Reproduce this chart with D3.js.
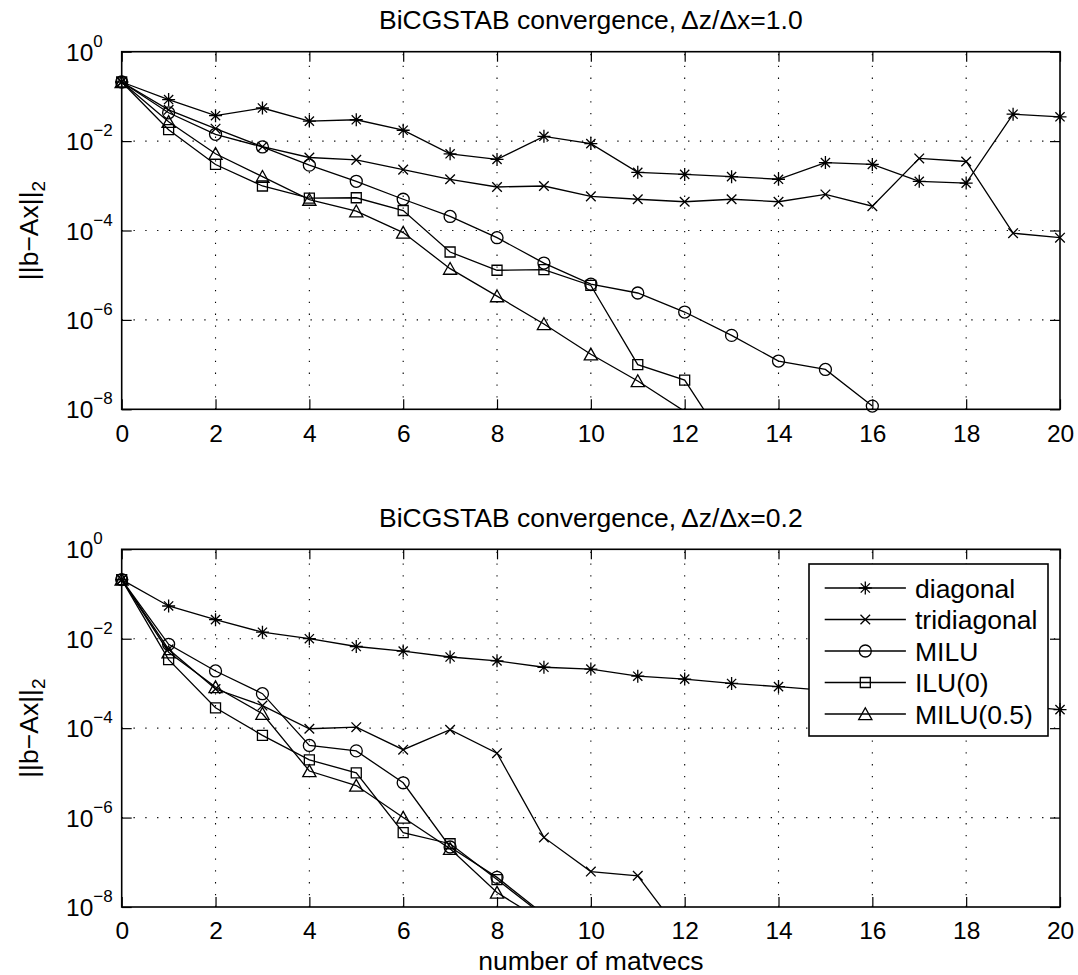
<!DOCTYPE html>
<html><head><meta charset="utf-8">
<script src="https://cdn.jsdelivr.net/npm/d3@7"></script>
<style>
body{margin:0;background:#fff;}
svg{display:block;font-family:"Liberation Sans",Arial,Helvetica,sans-serif;}
</style>
</head><body>
<svg id="chart" width="1078" height="975"></svg>
<script>
// ---------- data ----------
const xTickValues = [0, 2, 4, 6, 8, 10, 12, 14, 16, 18, 20];
const yTickExponents = [0, -2, -4, -6, -8];
const seriesNames = ["diagonal", "tridiagonal", "MILU", "ILU(0)", "MILU(0.5)"];
const seriesMarkers = ["asterisk", "times", "circle", "square", "triangle"];
const titlePrefix = "BiCGSTAB convergence,";
const panelRatios = ["\u0394z/\u0394x=1.0", "\u0394z/\u0394x=0.2"];
const xLabel = "number of matvecs";

// residual norms, index = number of matvecs (panel 1: dz/dx = 1.0)
const top_diagonal = [0.21, 0.085, 0.037, 0.055, 0.028, 0.030, 0.0175, 0.0052, 0.0039, 0.0128, 0.0088,
  0.0020, 0.0018, 0.0016, 0.0014, 0.0033, 0.0030, 0.00126, 0.00115, 0.040, 0.035];
const top_tridiagonal = [0.21, 0.05, 0.019, 0.0075, 0.0043, 0.0038, 0.0023, 0.0014, 0.00094, 0.00099, 0.00058,
  0.0005, 0.00044, 0.0005, 0.00044, 0.00064, 0.00035, 0.0041, 0.0035, 0.000087, 0.000069];
const top_milu = [0.21, 0.043, 0.0142, 0.0074, 0.0029, 0.00126, 0.0005, 0.000206, 0.000069, 1.87e-5, 6.3e-6,
  4.0e-6, 1.5e-6, 4.5e-7, 1.2e-7, 7.8e-8, 1.18e-8];
const top_ilu0 = [0.21, 0.018, 0.003, 0.00099, 0.00053, 0.00054, 0.00028, 3.3e-5, 1.29e-5, 1.33e-5, 5.9e-6,
  1.0e-7, 4.5e-8, 1.1e-9];
const top_milu05 = [0.21, 0.027, 0.0052, 0.0016, 0.00049, 0.00027, 9.0e-5, 1.4e-5, 3.4e-6, 8.1e-7, 1.7e-7,
  4.3e-8, 9e-9];

// panel 2: dz/dx = 0.2
const bottom_diagonal = [0.21, 0.054, 0.0267, 0.014, 0.010, 0.0067, 0.0053, 0.0039, 0.0032, 0.0023, 0.0021,
  0.00145, 0.00125, 0.001, 0.00085, 0.00070, 0.00058, 0.00048, 0.00039, 0.00032, 0.00026];
const bottom_tridiagonal = [0.21, 0.0058, 0.00075, 0.00032, 9.7e-5, 1.05e-4, 3.3e-5, 9.2e-5, 2.76e-5, 3.6e-7,
  6.2e-8, 5.0e-8, 2e-9];
const bottom_milu = [0.21, 0.0075, 0.0019, 0.00059, 4.1e-5, 3.1e-5, 6e-6, 2.2e-7, 4.6e-8, 6.8e-9];
const bottom_ilu0 = [0.21, 0.0034, 0.000285, 6.9e-5, 1.95e-5, 1.0e-5, 4.6e-7, 2.6e-7, 4.1e-8, 6.3e-9];
const bottom_milu05 = [0.21, 0.005, 0.00083, 0.00021, 1.1e-5, 5.2e-6, 1.0e-6, 2.0e-7, 2.1e-8, 4.7e-9];

const panelSeries = [
  [top_diagonal, top_tridiagonal, top_milu, top_ilu0, top_milu05],
  [bottom_diagonal, bottom_tridiagonal, bottom_milu, bottom_ilu0, bottom_milu05]
];

// ---------- layout ----------
const W = 1078, H = 975;
const plotLeft = 121.7, plotRight = 1060;
const panels = [{top: 51.7, bottom: 409.3}, {top: 549.3, bottom: 907}];
const tickFont = 24.5, textFont = 26.5, supFont = 17;

const svg = d3.select("#chart");
svg.append("rect").attr("width", W).attr("height", H).attr("fill", "#fff");

function markerPath(type) {
  const p = d3.path();
  if (type === "asterisk") {
    const a = 6.5, b = 4.6;
    p.moveTo(0, -a); p.lineTo(0, a);
    p.moveTo(-a, 0); p.lineTo(a, 0);
    p.moveTo(-b, -b); p.lineTo(b, b);
    p.moveTo(-b, b); p.lineTo(b, -b);
  } else if (type === "times") {
    const a = 4.8;
    p.moveTo(-a, -a); p.lineTo(a, a);
    p.moveTo(-a, a); p.lineTo(a, -a);
  } else if (type === "circle") {
    p.moveTo(6, 0); p.arc(0, 0, 6, 0, Math.PI * 2);
  } else if (type === "square") {
    p.rect(-5, -5, 10, 10);
  } else if (type === "triangle") {
    p.moveTo(0, -6.2); p.lineTo(6.6, 5.6); p.lineTo(-6.6, 5.6); p.closePath();
  }
  return p.toString();
}

panels.forEach((pan, pi) => {
  const x = d3.scaleLinear().domain([0, 20]).range([plotLeft, plotRight]);
  const y = d3.scaleLog().domain([1e-8, 1]).range([pan.bottom, pan.top]);
  const g = svg.append("g");
  const clipId = "clip" + pi;
  svg.append("clipPath").attr("id", clipId).append("rect")
    .attr("x", plotLeft).attr("y", pan.top)
    .attr("width", plotRight - plotLeft).attr("height", pan.bottom - pan.top);

  // grid
  const grid = g.append("g").attr("stroke", "#000").attr("stroke-width", 1.1)
    .attr("stroke-dasharray", "1.3,10.5");
  grid.selectAll("line.vx").data(xTickValues.slice(1, -1)).join("line")
    .attr("x1", d => x(d)).attr("x2", d => x(d))
    .attr("y1", pan.bottom).attr("y2", pan.top);
  grid.selectAll("line.hy").data(yTickExponents.slice(1, -1)).join("line")
    .attr("y1", d => y(Math.pow(10, d))).attr("y2", d => y(Math.pow(10, d)))
    .attr("x1", plotLeft).attr("x2", plotRight);

  // axes with inward ticks
  const yTicks = yTickExponents.map(e => Math.pow(10, e));
  const axB = g.append("g").attr("transform", `translate(0,${pan.bottom})`)
    .call(d3.axisBottom(x).tickValues(xTickValues).tickSizeInner(-10).tickSizeOuter(0).tickPadding(15).tickFormat(d3.format("d")));
  const axT = g.append("g").attr("transform", `translate(0,${pan.top})`)
    .call(d3.axisTop(x).tickValues(xTickValues).tickSizeInner(-10).tickSizeOuter(0).tickFormat(""));
  const axL = g.append("g").attr("transform", `translate(${plotLeft},0)`)
    .call(d3.axisLeft(y).tickValues(yTicks).tickSizeInner(-10).tickSizeOuter(0).tickFormat(""));
  const axR = g.append("g").attr("transform", `translate(${plotRight},0)`)
    .call(d3.axisRight(y).tickValues(yTicks).tickSizeInner(-10).tickSizeOuter(0).tickFormat(""));
  [axB, axT, axL, axR].forEach(a => {
    a.select(".domain").remove();
    a.selectAll(".tick line").attr("stroke", "#000").attr("stroke-width", 1.2);
  });
  axB.selectAll(".tick text").attr("font-size", tickFont).attr("fill", "#000")
    .attr("font-family", "Liberation Sans, Arial, sans-serif");

  // y tick labels 10^e
  const yl = g.append("g");
  yTickExponents.forEach(e => {
    const yy = y(Math.pow(10, e));
    const t = yl.append("text").attr("x", 66).attr("y", yy + 9)
      .attr("font-size", tickFont).attr("fill", "#000");
    t.append("tspan").text("10");
    t.append("tspan").attr("font-size", supFont).attr("dy", -14)
      .text(e === 0 ? "0" : "\u2212" + Math.abs(e));
  });

  // series
  const lineGen = d3.line().x((d, i) => x(i)).y(d => y(d));
  const dataG = g.append("g");
  panelSeries[pi].forEach((vals, si) => {
    dataG.append("path").attr("d", lineGen(vals)).attr("fill", "none")
      .attr("stroke", "#000").attr("stroke-width", 1.3)
      .attr("clip-path", `url(#${clipId})`);
    const pts = vals.map((v, i) => ({i, v})).filter(d => d.v >= 1e-8 && d.v <= 1);
    dataG.selectAll(null).data(pts).join("path")
      .attr("d", markerPath(seriesMarkers[si]))
      .attr("transform", d => `translate(${x(d.i)},${y(d.v)})`)
      .attr("fill", "none").attr("stroke", "#000").attr("stroke-width", 1.3);
  });

  // box
  g.append("rect").attr("x", plotLeft).attr("y", pan.top)
    .attr("width", plotRight - plotLeft).attr("height", pan.bottom - pan.top)
    .attr("fill", "none").attr("stroke", "#000").attr("stroke-width", 1.6);

  // title
  const tt = svg.append("text").attr("x", (plotLeft + plotRight) / 2).attr("y", pan.top - 22.5)
    .attr("text-anchor", "middle").attr("font-size", textFont).attr("fill", "#000");
  tt.append("tspan").text(titlePrefix);
  tt.append("tspan").attr("dx", 5).text(panelRatios[pi]);

  // y label
  const cy = (pan.top + pan.bottom) / 2;
  const ylab = svg.append("text").attr("transform", `translate(38,${cy}) rotate(-90)`)
    .attr("text-anchor", "middle").attr("font-size", textFont).attr("fill", "#000");
  ylab.append("tspan").text("||b\u2212Ax||");
  ylab.append("tspan").attr("font-size", 19).attr("dy", 7).text("2");

  // legend in second panel
  if (pi === 1) {
    const lg = svg.append("g");
    const lx = 809, ly = 564, lw = 239, lh = 172;
    lg.append("rect").attr("x", lx).attr("y", ly).attr("width", lw).attr("height", lh)
      .attr("fill", "#fff").attr("stroke", "#000").attr("stroke-width", 1.6);
    const rowY = d3.scaleLinear().domain([0, 4]).range([588, 714]);
    seriesNames.forEach((name, si) => {
      const yy = rowY(si);
      lg.append("line").attr("x1", 824.7).attr("x2", 905.9).attr("y1", yy).attr("y2", yy)
        .attr("stroke", "#000").attr("stroke-width", 1.3);
      lg.append("path").attr("d", markerPath(seriesMarkers[si]))
        .attr("transform", `translate(865.3,${yy})`)
        .attr("fill", "none").attr("stroke", "#000").attr("stroke-width", 1.3);
      lg.append("text").attr("x", 915).attr("y", yy).attr("dy", "0.36em")
        .attr("font-size", textFont).attr("fill", "#000").text(name);
    });
  }
});

// x label
svg.append("text").attr("x", (plotLeft + plotRight) / 2).attr("y", 970)
  .attr("text-anchor", "middle").attr("font-size", textFont).attr("fill", "#000")
  .text(xLabel);
</script>
</body></html>
